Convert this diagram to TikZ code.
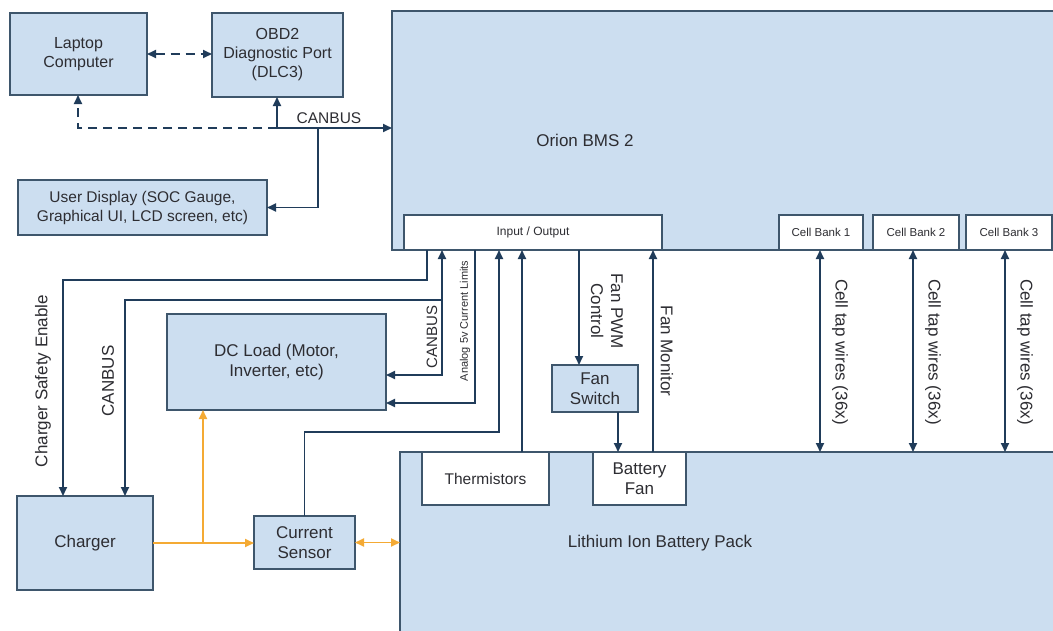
\documentclass[tikz,border=0pt]{standalone}
\usepackage{fontspec}
\setmainfont{Liberation Sans}
\usetikzlibrary{arrows.meta}
\definecolor{boxfill}{RGB}{204,222,240}
\definecolor{boxline}{RGB}{62,86,108}
\definecolor{wirec}{RGB}{32,60,90}
\definecolor{orangec}{RGB}{244,170,52}
\definecolor{txt}{RGB}{45,45,50}
\begin{document}
\begin{tikzpicture}[x=1pt,y=-1pt,
  blk/.style={draw=boxline, line width=1.6pt, fill=boxfill, text=txt, align=center,
    inner sep=0pt, outer sep=0pt, font=\fontsize{16}{19}\selectfont},
  wbox/.style={blk, fill=white},
  lbl/.style={text=txt, inner sep=0pt, align=center, font=\fontsize{17}{20}\selectfont},
  wire/.style={draw=wirec, line width=1.8pt},
  dwire/.style={wire, dash pattern=on 9pt off 6pt},
  owire/.style={draw=orangec, line width=1.8pt},
  >={Triangle[length=9pt,width=8pt]}
]
\useasboundingbox (0,0) rectangle (1053,630);
\clip (0,0) rectangle (1053,630);
\fill[white] (0,0) rectangle (1053,630);

% big boxes
\node[blk, minimum width=668pt, minimum height=239pt] (bms) at (726,130.5) {};
\node[lbl] (bmst) at (585,140) {Orion BMS 2};
\node[blk, minimum width=660pt, minimum height=188pt] (battery) at (730,546) {};
\node[lbl] (batt) at (660,543) {Lithium Ion Battery Pack};

% top-left boxes
\node[blk, minimum width=137pt, minimum height=82pt] (laptop) at (78.5,54) {Laptop\\Computer};
\node[blk, minimum width=131pt, minimum height=84pt] (obd) at (277.5,55) {OBD2\\Diagnostic Port\\(DLC3)};
\node[blk, minimum width=249pt, minimum height=55pt, font=\fontsize{15.5}{19}\selectfont] (udisp) at (142.5,207.5) {User Display (SOC Gauge,\\Graphical UI, LCD screen, etc)};

% BMS sub boxes
\node[wbox, minimum width=258pt, minimum height=35pt, font=\fontsize{12}{14}\selectfont] (io) at (533,232.5) {Input / Output};
\node[wbox, minimum width=84pt, minimum height=35pt, font=\fontsize{11.5}{14}\selectfont] (cb1) at (821,232.5) {Cell Bank 1};
\node[wbox, minimum width=86pt, minimum height=35pt, font=\fontsize{11.5}{14}\selectfont] (cb2) at (916,232.5) {Cell Bank 2};
\node[wbox, minimum width=86pt, minimum height=35pt, font=\fontsize{11.5}{14}\selectfont] (cb3) at (1009,232.5) {Cell Bank 3};

% battery sub boxes
\node[wbox, minimum width=127pt, minimum height=53pt, font=\fontsize{15.5}{18}\selectfont] (therm) at (485.5,478.5) {Thermistors};
\node[wbox, minimum width=93pt, minimum height=53pt, font=\fontsize{17}{20}\selectfont] (bfan) at (639.5,478.5) {Battery\\Fan};

% middle boxes
\node[blk, minimum width=86pt, minimum height=47pt, font=\fontsize{17}{20}\selectfont] (fsw) at (595,388.5) {Fan\\Switch};
\node[blk, minimum width=219pt, minimum height=96pt, font=\fontsize{17}{20}\selectfont] (dcl) at (276.5,362) {DC Load (Motor,\\Inverter, etc)};
\node[blk, minimum width=136pt, minimum height=94pt, font=\fontsize{17}{20}\selectfont] (chg) at (85,543) {Charger};
\node[blk, minimum width=101pt, minimum height=53pt, font=\fontsize{17}{20}\selectfont] (cs) at (304.5,542.5) {Current\\Sensor};

% top connectors
\coordinate (jobd) at (277,128);
\coordinate (jud) at (318,128);
\draw[dwire,<->] (laptop.east) -- (laptop.east -| obd.west);
\draw[dwire,->] (jobd) -- (78,128) -- (78,0 |- laptop.south);
\draw[wire,->] (jobd) -- (jobd |- obd.south);
\draw[wire,->] (jobd) -- (jobd -| bms.west);
\draw[wire,->] (jud) -- (jud |- udisp.east) -- (udisp.east);
\node[lbl, font=\fontsize{15.5}{18}\selectfont] (canbus1) at (329,118) {CANBUS};

% charger safety enable
\coordinate (cse) at (427,280);
\draw[wire,->] (427,0 |- io.south) -- (cse) -- (63,280) -- (63,0 |- chg.north);
\node[lbl, rotate=90] (csel) at (43,381) {Charger Safety Enable};

% CANBUS to charger and DC load
\coordinate (jcan) at (442,300);
\draw[wire,->] (jcan) -- (442,0 |- io.south);
\draw[wire,->] (jcan) -- (125,300) -- (125,0 |- chg.north);
\draw[wire,->] (jcan) -- (442,375) -- (dcl.east |- 0,375);
\node[lbl, rotate=90] (canbus2) at (108,381) {CANBUS};
\node[lbl, rotate=90, font=\fontsize{15}{18}\selectfont] (canbus3) at (432,337) {CANBUS};

% analog current limits
\draw[wire,->] (475,0 |- io.south) -- (475,403) -- (dcl.east |- 0,403);
\node[lbl, rotate=90, font=\fontsize{11}{13}\selectfont] (anl) at (465,321) {Analog 5v Current Limits};

% current sensor to IO
\draw[wire,->] (cs.north) -- (304.5,432) -- (499,432) -- (499,0 |- io.south);
% thermistors
\draw[wire,->] (522,0 |- therm.north) -- (522,0 |- io.south);
% fan pwm
\draw[wire,->] (579,0 |- io.south) -- (579,0 |- fsw.north);
\node[lbl, rotate=-90] (fpwm) at (607,311) {Fan PWM\\Control};
% fan switch to battery fan
\draw[wire,->] (618,0 |- fsw.south) -- (618,0 |- bfan.north);
% fan monitor
\draw[wire,->] (653,0 |- bfan.north) -- (653,0 |- io.south);
\node[lbl, rotate=-90] (fmon) at (667,351) {Fan Monitor};

% cell taps
\draw[wire,<->] (820,0 |- cb1.south) -- (820,0 |- battery.north);
\draw[wire,<->] (913,0 |- cb2.south) -- (913,0 |- battery.north);
\draw[wire,<->] (1005,0 |- cb3.south) -- (1005,0 |- battery.north);
\node[lbl, rotate=-90] (ct1) at (840,352) {Cell tap wires (36x)};
\node[lbl, rotate=-90] (ct2) at (933,352) {Cell tap wires (36x)};
\node[lbl, rotate=-90] (ct3) at (1025,352) {Cell tap wires (36x)};

% power path (orange)
\coordinate (jpow) at (203,543);
\draw[owire,->] (chg.east |- 0,543) -- (cs.west |- 0,543);
\draw[owire,->] (jpow) -- (jpow |- dcl.south);
\draw[owire,<->] (cs.east) -- (cs.east -| battery.west);
\end{tikzpicture}
\end{document}
